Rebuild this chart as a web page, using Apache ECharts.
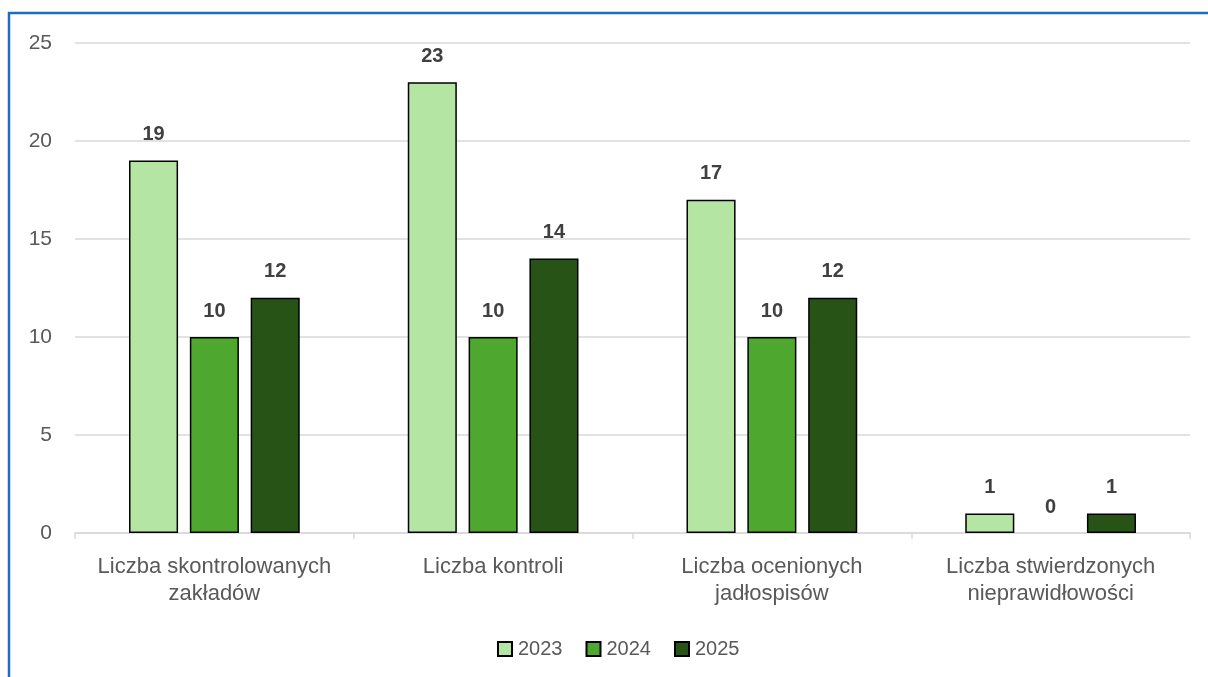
<!DOCTYPE html>
<html>
<head>
<meta charset="utf-8">
<script src="https://cdn.jsdelivr.net/npm/echarts@6/dist/echarts.min.js"></script>
<style>
html,body{margin:0;padding:0;background:#fff;}
#c{width:1208px;height:677px;}
</style>
</head>
<body>
<div id="c"></div>
<script>
const categories = ['Liczba skontrolowanych\nzakładów', 'Liczba kontroli', 'Liczba ocenionych\njadłospisów', 'Liczba stwierdzonych\nnieprawidłowości'];
const seriesNames = ['2023', '2024', '2025'];
const values2023 = [19, 23, 17, 1];
const values2024 = [10, 10, 10, 0];
const values2025 = [12, 14, 12, 1];
const colors = ['#b4e5a2', '#4ea72e', '#275317'];

const FONT = '"Liberation Sans", Arial, sans-serif';
const chart = echarts.init(document.getElementById('c'), null, {renderer: 'canvas'});
const data = [values2023, values2024, values2025];
chart.setOption({
  animation: false,
  textStyle: {fontFamily: FONT},
  graphic: [{
    type: 'rect', silent: true, z: 100,
    shape: {x: 9, y: 13, width: 1400, height: 900},
    style: {fill: 'none', stroke: '#1a6fc4', lineWidth: 2.5}
  }],
  grid: {left: 75, right: 18, top: 43, bottom: 144},
  legend: {
    bottom: 13, left: 492,
    itemWidth: 14, itemHeight: 14, itemGap: 23,
    icon: 'rect',
    textStyle: {fontSize: 20, color: '#595959', fontFamily: FONT, padding: [0, 0, 0, 1]},
    data: seriesNames
  },
  xAxis: {
    type: 'category',
    data: categories,
    axisLine: {lineStyle: {color: '#d9d9d9', width: 1.5}},
    axisTick: {show: true, length: 6, lineStyle: {color: '#d9d9d9', width: 1.5}},
    axisLabel: {fontSize: 22, color: '#595959', lineHeight: 27, margin: 20, fontFamily: FONT, interval: 0}
  },
  yAxis: {
    type: 'value', min: 0, max: 25, interval: 5,
    axisLine: {show: false}, axisTick: {show: false},
    splitLine: {lineStyle: {color: '#d9d9d9', width: 1.5}},
    axisLabel: {fontSize: 21, color: '#595959', margin: 23, align: 'right', fontFamily: FONT}
  },
  series: seriesNames.map((n, i) => ({
    name: n, type: 'bar',
    data: data[i].map(v => v === 0 ? {value: v, itemStyle: {borderWidth: 0}} : v),
    barWidth: '17.6%', barGap: '24%',
    itemStyle: {color: colors[i], borderColor: '#000', borderWidth: 1.5},
    label: {show: true, position: 'top', distance: 16, fontSize: 20, fontWeight: 'bold', color: '#404040', fontFamily: FONT}
  }))
});
</script>
</body>
</html>
